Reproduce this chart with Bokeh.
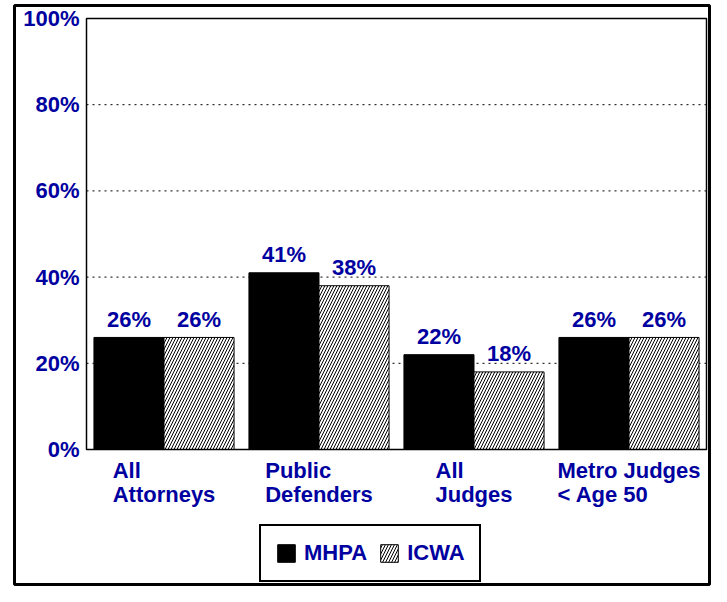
from bokeh.plotting import figure
from bokeh.models import (Range1d, ColumnDataSource, FixedTicker, LinearAxis,
                          Legend, LegendItem)
from bokeh.core.properties import value
from bokeh.embed import file_html
from bokeh.resources import INLINE

# ---- data ----
categories = ["All\nAttorneys", "Public\nDefenders", "All\nJudges", "Metro Judges\n< Age 50"]
mhpa = [26, 41, 22, 26]
icwa = [26, 38, 18, 26]
series_names = ["MHPA", "ICWA"]
y_ticks = [0, 20, 40, 60, 80, 100]
y_tick_labels = ["0%", "20%", "40%", "60%", "80%", "100%"]

BLUE = "#0000A0"
FONT = "Liberation Sans"
FS = 22

# ---- layout (canvas pixels) ----
W_FIG, H_FIG = 711, 586
OL, OR, OT, OB = 14, 709, 5, 584      # outer frame
IL, IR, IT, IB = 86, 706, 18, 449     # inner plot area

n = len(categories)
Y_MAX = y_ticks[-1]
px_x = (IR - IL) / n
px_y = (IB - IT) / Y_MAX
x_range = Range1d(-(IL - OL) / px_x, n + (OR - IR) / px_x)
y_range = Range1d(-(OB - IB) / px_y, Y_MAX + (IT - OT) / px_y)

# approximate Arial/Liberation Sans Bold advance widths (per 1000 em)
CW = {' ': 278, '<': 584, '0': 556, '5': 556, 'A': 722, 'D': 722, 'J': 556,
      'M': 833, 'P': 667, 'a': 556, 'b': 611, 'c': 556, 'd': 611, 'e': 556,
      'f': 333, 'g': 611, 'i': 278, 'l': 278, 'n': 611, 'o': 611, 'r': 389,
      's': 556, 't': 333, 'u': 611, 'y': 556}


def text_w(s):
    return sum(CW.get(ch, 556) for ch in s) * FS / 1000.0


BW = 0.452  # bar width in group units
centers = [i + 0.5 for i in range(n)]
line1 = [c.split("\n")[0] for c in categories]
line2 = [c.split("\n")[1] for c in categories]
xoff = [-max(text_w(a), text_w(b)) / 2.0 for a, b in zip(line1, line2)]

src = ColumnDataSource(dict(
    xc=centers,
    x1=[c - BW / 2 for c in centers], x2=[c + BW / 2 for c in centers],
    mhpa=mhpa, icwa=icwa,
    mhpa_lbl=[f"{v}%" for v in mhpa], icwa_lbl=[f"{v}%" for v in icwa],
    l1=line1, l2=line2, xoff=xoff, zero=[0] * n,
))

p = figure(x_range=x_range, y_range=y_range, width=W_FIG, height=H_FIG,
           output_backend="svg", toolbar_location=None,
           x_axis_location=None, y_axis_location=None,
           min_border_left=OL, min_border_right=W_FIG - OR,
           min_border_top=OT, min_border_bottom=H_FIG - OB)
p.background_fill_color = "white"
p.border_fill_color = "white"
p.outline_line_color = "black"
p.outline_line_width = 3
p.xgrid.visible = False
p.ygrid.visible = False

# y axis placed at the inner plot's left edge
yax = LinearAxis(fixed_location=0, ticker=FixedTicker(ticks=y_ticks),
                 major_label_overrides={t: l for t, l in zip(y_ticks, y_tick_labels)})
yax.major_tick_in = 0
yax.major_tick_out = 0
yax.minor_tick_in = 0
yax.minor_tick_out = 0
yax.axis_line_color = None
yax.major_label_standoff = 7
yax.major_label_text_font = FONT
yax.major_label_text_font_style = "bold"
yax.major_label_text_font_size = f"{FS}px"
yax.major_label_text_color = BLUE
p.add_layout(yax, "left")

# dotted grid lines
grid_y = y_ticks[1:-1]
p.segment(x0=[0] * len(grid_y), x1=[n] * len(grid_y), y0=grid_y, y1=grid_y,
          line_color="black", line_dash="2 4", line_width=1)

r1 = p.vbar(x="x1", top="mhpa", width=BW, source=src,
            fill_color="black", line_color="black", line_width=1)
r2 = p.vbar(x="x2", top="icwa", width=BW, source=src,
            fill_color="white", line_color="black", line_width=1,
            hatch_pattern="/", hatch_color="black", hatch_scale=6, hatch_weight=1)

# inner plot frame
p.quad(left=[0], right=[n], bottom=[0], top=[Y_MAX], fill_color=None,
       line_color="black", line_width=1.5)

common = dict(text_font=value(FONT), text_font_style="bold",
              text_font_size=f"{FS}px", text_color=BLUE)
p.text(x="x1", y="mhpa", text="mhpa_lbl", source=src,
       text_align="center", text_baseline="alphabetic", y_offset=-18, **common)
p.text(x="x2", y="icwa", text="icwa_lbl", source=src,
       text_align="center", text_baseline="alphabetic", y_offset=-18, **common)

# category labels (left-aligned block, centered under each group)
p.text(x="xc", y="zero", text="l1", x_offset="xoff", y_offset=21, source=src,
       text_align="left", text_baseline="alphabetic", **common)
p.text(x="xc", y="zero", text="l2", x_offset="xoff", y_offset=45, source=src,
       text_align="left", text_baseline="alphabetic", **common)

legend = Legend(items=[LegendItem(label=series_names[0], renderers=[r1]),
                       LegendItem(label=series_names[1], renderers=[r2])],
                location=(259 - OL, 2), orientation="horizontal",
                border_line_color="black", border_line_width=2,
                border_line_alpha=1,
                background_fill_color="white", background_fill_alpha=1,
                label_text_font=FONT, label_text_font_style="bold",
                label_text_font_size=f"{FS}px", label_text_color=BLUE,
                glyph_width=22, glyph_height=22, label_standoff=7,
                label_height=26, spacing=11, padding=14, margin=0)
p.add_layout(legend)

open("out.html", "w").write(file_html(p, INLINE))
